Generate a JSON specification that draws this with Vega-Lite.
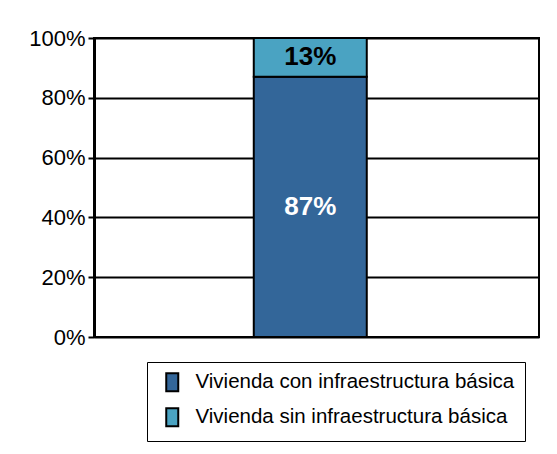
{
  "$schema": "https://vega.github.io/schema/vega-lite/v6.json",
  "width": 445,
  "height": 299,
  "autosize": {"type": "none"},
  "padding": {"left": 94, "top": 38, "right": 18, "bottom": 117},
  "background": "white",
  "config": {
    "font": "Liberation Sans",
    "view": {"stroke": "black", "strokeWidth": 2},
    "legend": {"labelFont": "Liberation Sans"}
  },
  "data": {
    "values": [
      {"cat": "A", "series": "Vivienda con infraestructura básica", "value": 87, "label": "87%"},
      {"cat": "A", "series": "Vivienda sin infraestructura básica", "value": 13, "label": "13%"}
    ]
  },
  "transform": [
    {"stack": "value", "groupby": ["cat"], "sort": [{"field": "series", "order": "ascending"}], "as": ["v0", "v1"]},
    {"calculate": "(datum.v0 + datum.v1) / 2", "as": "mid"}
  ],
  "encoding": {
    "x": {
      "field": "cat",
      "type": "nominal",
      "axis": null,
      "scale": {"paddingInner": 0, "paddingOuter": 1.469, "align": 0.479}
    }
  },
  "layer": [
    {
      "mark": {"type": "bar", "stroke": "black", "strokeWidth": 2, "width": 113},
      "encoding": {
        "y": {
          "field": "v0",
          "type": "quantitative",
          "scale": {"domain": [0, 100], "nice": false},
          "axis": {
            "values": [0, 20, 40, 60, 80, 100],
            "labelExpr": "datum.value + '%'",
            "labelFont": "Liberation Sans",
            "labelFontSize": 22,
            "labelColor": "black",
            "labelPadding": 3,
            "tickSize": 6,
            "tickColor": "black",
            "tickWidth": 2,
            "domainColor": "black",
            "domainWidth": 3,
            "grid": true,
            "gridColor": "black",
            "gridWidth": 2,
            "gridOpacity": 1,
            "title": null
          }
        },
        "y2": {"field": "v1"},
        "color": {
          "field": "series",
          "type": "nominal",
          "scale": {
            "domain": ["Vivienda con infraestructura básica", "Vivienda sin infraestructura básica"],
            "range": ["#336699", "#4AA3C2"]
          },
          "legend": {
            "title": null,
            "orient": "none",
            "legendX": 53,
            "legendY": 324,
            "strokeColor": "black",
            "fillColor": "white",
            "padding": 10,
            "symbolOffset": 5,
            "symbolType": "M-0.667,-1L0.667,-1L0.667,1L-0.667,1Z",
            "symbolSize": 324,
            "symbolStrokeColor": "black",
            "symbolStrokeWidth": 2,
            "symbolOpacity": 1,
            "labelFontSize": 20.5,
            "labelColor": "black",
            "labelOffset": 13,
            "labelLimit": 500,
            "labelExpr": "datum.label + '\u00a0\u00a0\u00a0\u00a0'",
            "rowPadding": 8
          }
        }
      }
    },
    {
      "mark": {"type": "text", "font": "Liberation Sans", "fontSize": 26, "fontWeight": "bold", "baseline": "middle"},
      "encoding": {
        "y": {"field": "mid", "type": "quantitative"},
        "text": {"field": "label"},
        "color": {
          "condition": {"test": "datum.value > 50", "value": "white"},
          "value": "black"
        }
      }
    }
  ]
}
